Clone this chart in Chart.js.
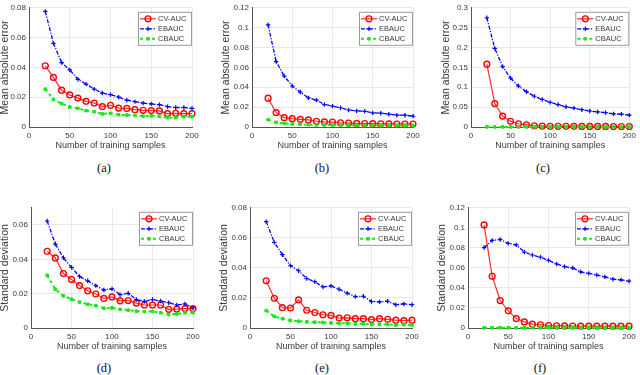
<!DOCTYPE html>
<html>
<head>
<meta charset="utf-8">
<script src="https://cdn.jsdelivr.net/npm/chart.js@4.4.0/dist/chart.umd.min.js"></script>
<style>
  body { margin: 0; background: #fff; }
  #fig { position: relative; width: 640px; height: 375px; overflow: hidden; }
  #fig canvas { position: absolute; }
  .cap { position: absolute; font-family: "Liberation Serif", serif; font-size: 12.5px; color: #111; transform: translateX(-50%); }
</style>
</head>
<body>
<div id="fig"></div>
<script>
// Eje x: numero de muestras de entrenamiento
const xs = [20, 30, 40, 50, 60, 70, 80, 90, 100, 110, 120, 130, 140, 150, 160, 170, 180, 190, 200];
const labels = ["CV-AUC", "EBAUC", "CBAUC"];

// (a) Mean absolute error
const maeA_cv = [0.0411, 0.0333, 0.0247, 0.0215, 0.0194, 0.0172, 0.0161, 0.0137, 0.0146, 0.0127, 0.0125, 0.0116, 0.0112, 0.0110, 0.0108, 0.0090, 0.0092, 0.0090, 0.0090];
const maeA_eb = [0.0776, 0.0561, 0.0432, 0.0383, 0.0320, 0.0288, 0.0254, 0.0228, 0.0217, 0.0200, 0.0180, 0.0170, 0.0160, 0.0155, 0.0150, 0.0137, 0.0131, 0.0131, 0.0125];
const maeA_cb = [0.0254, 0.0185, 0.0157, 0.0134, 0.0125, 0.0110, 0.0103, 0.0088, 0.0092, 0.0082, 0.0080, 0.0078, 0.0073, 0.0075, 0.0071, 0.0063, 0.0063, 0.0069, 0.0069];
// (b)
const maeB_cv = [0.0290, 0.0145, 0.0094, 0.0084, 0.0077, 0.0071, 0.0058, 0.0052, 0.0050, 0.0043, 0.0040, 0.0036, 0.0035, 0.0033, 0.0032, 0.0031, 0.0030, 0.0030, 0.0030];
const maeB_eb = [0.1029, 0.0658, 0.0513, 0.0413, 0.0352, 0.0293, 0.0271, 0.0226, 0.0210, 0.0194, 0.0171, 0.0162, 0.0158, 0.0142, 0.0139, 0.0129, 0.0119, 0.0119, 0.0109];
const maeB_cb = [0.0074, 0.0046, 0.0036, 0.0030, 0.0027, 0.0023, 0.0021, 0.0020, 0.0019, 0.0018, 0.0018, 0.0017, 0.0016, 0.0016, 0.0015, 0.0015, 0.0014, 0.0014, 0.0013];
// (c)
const maeC_cv = [0.158, 0.0589, 0.0274, 0.0145, 0.0081, 0.0056, 0.0032, 0.0024, 0.0019, 0.0018, 0.0017, 0.0016, 0.0015, 0.0015, 0.0014, 0.0014, 0.0013, 0.0013, 0.0012];
const maeC_eb = [0.275, 0.198, 0.152, 0.123, 0.103, 0.0888, 0.0774, 0.0694, 0.0621, 0.0565, 0.0508, 0.0476, 0.0435, 0.0403, 0.0379, 0.0363, 0.0331, 0.0323, 0.0298];
const maeC_cb = [0.0003, 0.0003, 0.0002, 0.0002, 0.0002, 0.0002, 0.0002, 0.0002, 0.0002, 0.0002, 0.0002, 0.0002, 0.0002, 0.0002, 0.0002, 0.0002, 0.0002, 0.0002, 0.0002];

// (d) Standard deviation
const sdD_cv = [0.0447, 0.0408, 0.0317, 0.0283, 0.0247, 0.0217, 0.0198, 0.0172, 0.0181, 0.0158, 0.0160, 0.0145, 0.0134, 0.0134, 0.0134, 0.0109, 0.0110, 0.0113, 0.0113];
const sdD_eb = [0.0623, 0.0489, 0.0409, 0.0353, 0.0300, 0.0275, 0.0247, 0.0221, 0.0228, 0.0194, 0.0202, 0.0166, 0.0155, 0.0166, 0.0157, 0.0147, 0.0134, 0.0140, 0.0117];
const sdD_cb = [0.0307, 0.0226, 0.0187, 0.0168, 0.0151, 0.0138, 0.0130, 0.0115, 0.0117, 0.0108, 0.0104, 0.0098, 0.0096, 0.0097, 0.0089, 0.0078, 0.0082, 0.0089, 0.0089];
// (e)
const sdE_cv = [0.0314, 0.0198, 0.0135, 0.0133, 0.0187, 0.0118, 0.0103, 0.0088, 0.0084, 0.0066, 0.0068, 0.0062, 0.0062, 0.0056, 0.0062, 0.0058, 0.0052, 0.0049, 0.0052];
const sdE_eb = [0.0708, 0.0570, 0.0488, 0.0415, 0.0381, 0.0329, 0.0308, 0.0273, 0.0280, 0.0258, 0.0232, 0.0209, 0.0211, 0.0176, 0.0174, 0.0178, 0.0155, 0.0160, 0.0155];
const sdE_cb = [0.0116, 0.0077, 0.0062, 0.0050, 0.0045, 0.0041, 0.0039, 0.0037, 0.0034, 0.0032, 0.0032, 0.0028, 0.0028, 0.0024, 0.0026, 0.0024, 0.0020, 0.0022, 0.0020];
// (f)
const sdF_cv = [0.1029, 0.0516, 0.0274, 0.0171, 0.0094, 0.0061, 0.0038, 0.0032, 0.0025, 0.0022, 0.0021, 0.0020, 0.0019, 0.0019, 0.0019, 0.0019, 0.0018, 0.0018, 0.0018];
const sdF_eb = [0.0803, 0.0874, 0.0884, 0.0845, 0.0830, 0.0758, 0.0729, 0.0707, 0.0675, 0.0639, 0.0613, 0.0600, 0.0561, 0.0545, 0.0529, 0.0510, 0.0487, 0.0480, 0.0468];
const sdF_cb = [0.0002, 0.0002, 0.0002, 0.0002, 0.0002, 0.0002, 0.0002, 0.0002, 0.0002, 0.0002, 0.0002, 0.0002, 0.0002, 0.0002, 0.0002, 0.0002, 0.0002, 0.0002, 0.0002];

const FONT = "'Liberation Sans', Arial, sans-serif";
const TXT = "#3a3a3a";

// Estilos de cada serie (como en MATLAB: 'ro-', 'b*-.', 'gs--')
const styles = [
  { borderColor: "rgb(255,45,45)", borderWidth: 1.2, pointStyle: "circle", pointRadius: 2.9,
    pointBorderColor: "rgb(255,0,0)", pointBackgroundColor: "rgba(255,255,255,0)", pointBorderWidth: 1.4, order: 2 },
  { borderColor: "rgb(0,0,255)", borderWidth: 1.3, borderDash: [4, 1.5, 1.2, 1.5], pointStyle: "cross", pointRadius: 2.2,
    pointBorderColor: "rgb(0,0,255)", pointBackgroundColor: "rgb(0,0,255)", pointBorderWidth: 1.2, order: 1 },
  { borderColor: "rgb(20,235,20)", borderWidth: 2, borderDash: [3, 3], pointStyle: "rect", pointRadius: 1.8,
    pointBorderColor: "rgb(20,235,20)", pointBackgroundColor: "rgb(20,235,20)", pointBorderWidth: 1, order: 0 },
];

// Leyenda dentro del area del grafico (esquina superior derecha)
const boxLegend = {
  id: "boxLegend",
  afterDraw(chart) {
    const { ctx, chartArea } = chart;
    const w = 53, h = 33;
    const x = chartArea.right - w - 1, y = chartArea.top + 4;
    ctx.save();
    ctx.fillStyle = "#fff";
    ctx.fillRect(x, y, w, h);
    ctx.strokeStyle = "#9a9a9a";
    ctx.lineWidth = 1;
    ctx.strokeRect(x + 0.5, y + 0.5, w, h);
    chart.data.datasets.forEach((ds, i) => {
      const ry = y + 7 + i * 10;
      ctx.strokeStyle = ds.borderColor;
      ctx.lineWidth = ds.borderWidth;
      ctx.setLineDash(ds.borderDash || []);
      ctx.beginPath();
      ctx.moveTo(x + 2, ry);
      ctx.lineTo(x + 18, ry);
      ctx.stroke();
      ctx.setLineDash([]);
      ctx.strokeStyle = ds.pointBorderColor;
      ctx.fillStyle = ds.pointBackgroundColor;
      ctx.lineWidth = ds.pointBorderWidth;
      Chart.helpers.drawPoint(ctx, { pointStyle: ds.pointStyle, rotation: 0, radius: ds.pointRadius, borderWidth: ds.pointBorderWidth }, x + 10, ry);
      ctx.fillStyle = TXT;
      ctx.font = "7.5px " + FONT;
      ctx.textBaseline = "middle";
      ctx.textAlign = "left";
      ctx.fillText(ds.label, x + 20, ry + 0.5);
    });
    ctx.restore();
  },
};

const fmt = (v) => String(+v.toFixed(4));

// Cada panel: posicion del canvas, padding, ancho del eje y, limites
const panels = [
  { left: 0,   top: 0,   w: 205, h: 152, pl: 0,  pt: 3, yw: 29, ymax: 0.08, step: 0.02, ytitle: "Mean absolute error", tb: 1.5, data: [maeA_cv, maeA_eb, maeA_cb], cap: "(a)", cx: 104, cy: 161 },
  { left: 210, top: 0,   w: 215, h: 152, pl: 11, pt: 3, yw: 31, ymax: 0.12, step: 0.02, ytitle: "Mean absolute error", tb: 1.5, data: [maeB_cv, maeB_eb, maeB_cb], cap: "(b)", cx: 322, cy: 161 },
  { left: 425, top: 0,   w: 215, h: 152, pl: 16, pt: 3, yw: 30, ymax: 0.3,  step: 0.05, ytitle: "Mean absolute error", tb: 1.5, data: [maeC_cv, maeC_eb, maeC_cb], cap: "(c)", cx: 543, cy: 161 },
  { left: 0,   top: 200, w: 205, h: 153, pl: 0,  pt: 4, yw: 31, ymax: 0.07, step: 0.02, ytitle: "Standard deviation",  tb: 0.6, data: [sdD_cv, sdD_eb, sdD_cb], cap: "(d)", cx: 104, cy: 361 },
  { left: 210, top: 200, w: 215, h: 153, pl: 9,  pt: 4, yw: 31, ymax: 0.08, step: 0.02, ytitle: "Standard deviation",  tb: 0.6, data: [sdE_cv, sdE_eb, sdE_cb], cap: "(e)", cx: 322, cy: 361 },
  { left: 425, top: 200, w: 215, h: 153, pl: 12, pt: 4, yw: 31, ymax: 0.12, step: 0.02, ytitle: "Standard deviation",  tb: 0.6, data: [sdF_cv, sdF_eb, sdF_cb], cap: "(f)", cx: 540, cy: 361 },
];
const rightEdges = [192, 413, 632, 193, 412, 629];

const fig = document.getElementById("fig");

panels.forEach((p, k) => {
  const canvas = document.createElement("canvas");
  canvas.width = p.w;
  canvas.height = p.h;
  canvas.style.left = p.left + "px";
  canvas.style.top = p.top + "px";
  fig.appendChild(canvas);

  const cap = document.createElement("div");
  cap.className = "cap";
  cap.textContent = p.cap;
  cap.style.left = p.cx + "px";
  cap.style.top = p.cy + "px";
  fig.appendChild(cap);

  const datasets = p.data.map((arr, i) => ({
    label: labels[i],
    data: xs.map((x, j) => ({ x, y: arr[j] })),
    clip: false,
    ...styles[i],
  }));

  new Chart(canvas, {
    type: "line",
    data: { datasets },
    options: {
      responsive: false,
      animation: false,
      devicePixelRatio: 1,
      layout: { padding: { left: p.pl, top: p.pt, right: p.left + p.w - rightEdges[k], bottom: 0 } },
      plugins: { legend: { display: false }, tooltip: { enabled: false } },
      scales: {
        x: {
          type: "linear",
          min: 0,
          max: 200,
          afterFit: (s) => { s.height = 25; },
          grid: { color: "#e9e9e9", drawTicks: false },
          border: { color: "#555", width: 1 },
          ticks: { stepSize: 50, padding: 4, color: TXT, font: { family: FONT, size: 8 }, maxRotation: 0 },
          title: { display: true, text: "Number of training samples", color: TXT, font: { family: FONT, size: 9 }, padding: { top: 0, bottom: p.tb } },
        },
        y: {
          min: 0,
          max: p.ymax,
          afterFit: (s) => { s.width = p.yw; },
          grid: { color: "#e9e9e9", drawTicks: false },
          border: { color: "#555", width: 1 },
          ticks: { stepSize: p.step, includeBounds: false, padding: 3, color: TXT, font: { family: FONT, size: 8 }, callback: fmt },
          title: { display: true, text: p.ytitle, color: TXT, font: { family: FONT, size: 10.5, lineHeight: 1 }, padding: 0 },
        },
      },
    },
    plugins: [boxLegend],
  });
});
</script>
</body>
</html>
